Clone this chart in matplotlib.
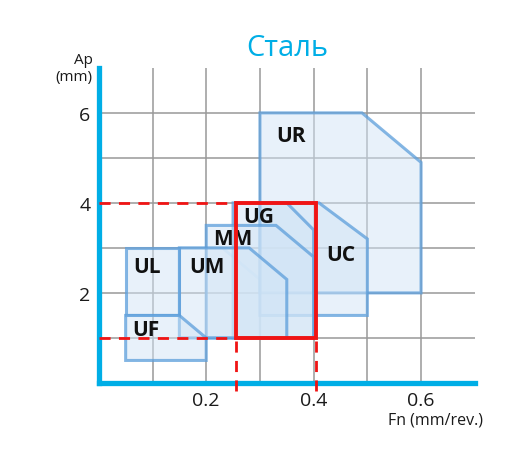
import matplotlib
matplotlib.use("Agg")
import matplotlib.pyplot as plt
from matplotlib.patches import Polygon, Rectangle

plt.rcParams['font.family'] = ['Open Sans', 'DejaVu Sans']

# ---- data ----
title = "Сталь"
x_label = "Fn (mm/rev.)"
y_label = "Ap\n(mm)"
x_ticks = [0.2, 0.4, 0.6]
y_ticks = [2, 4, 6]

# chipbreaker application areas (Fn, Ap) vertices
names = ["UR", "UC", "UG", "MM", "UM", "UL", "UF"]
areas = {
    "UR": [(0.30, 2.0), (0.60, 2.0), (0.60, 4.9), (0.49, 6.0), (0.30, 6.0)],
    "UC": [(0.30, 1.5), (0.50, 1.5), (0.50, 3.2), (0.41, 4.0), (0.30, 4.0)],
    "UG": [(0.25, 1.0), (0.40, 1.0), (0.40, 3.4), (0.35, 4.0), (0.25, 4.0)],
    "MM": [(0.20, 1.0), (0.40, 1.0), (0.40, 2.8), (0.33, 3.5), (0.20, 3.5)],
    "UM": [(0.15, 1.0), (0.35, 1.0), (0.35, 2.3), (0.28, 3.0), (0.15, 3.0)],
    "UL": [(0.05, 1.5), (0.15, 1.5), (0.15, 3.0), (0.05, 3.0)],
    "UF": [(0.05, 0.5), (0.20, 0.5), (0.20, 1.0), (0.15, 1.5), (0.05, 1.5)],
}
faint_area = [(0.15, 1.0), (0.30, 1.0), (0.30, 2.3), (0.23, 3.0), (0.15, 3.0)]
label_pos = {
    "UR": (0.331, 5.5), "UC": (0.424, 2.85), "UG": (0.269, 3.69),
    "MM": (0.212, 3.2), "UM": (0.168, 2.59), "UL": (0.065, 2.59),
    "UF": (0.063, 1.19),
}
# recommended range
fn_range = (0.255, 0.405)
ap_range = (1.0, 4.0)

# ---- figure ----
fig = plt.figure(figsize=(5.2, 4.56), dpi=100)
ax = fig.add_axes([0.190, 0.158, 0.723, 0.691])
ax.set_xlim(0, 0.7)
ax.set_ylim(0, 7)

cyan = "#00aee6"
for s in ["top", "right"]:
    ax.spines[s].set_visible(False)
for s in ["left", "bottom"]:
    ax.spines[s].set_color(cyan)
    ax.spines[s].set_linewidth(3.8)

grid_x = [0.1, 0.2, 0.3, 0.4, 0.5, 0.6]
grid_y = [1, 2, 3, 4, 5, 6]
ax.set_xticks(grid_x)
ax.set_xticklabels([f"{v:.1f}" if round(v, 1) in x_ticks else "" for v in grid_x])
ax.set_yticks(grid_y)
ax.set_yticklabels([str(v) if v in y_ticks else "" for v in grid_y])
ax.tick_params(length=0, labelsize=14, pad=6, colors="#1a1a1a")
ax.grid(True, color="#999999", linewidth=1.1, zorder=0)
ax.set_axisbelow(True)

face = (210 / 255, 229 / 255, 246 / 255, 0.5)
edge = (0.36, 0.62, 0.86, 0.75)
ax.add_patch(Polygon(faint_area, closed=True, facecolor="none",
                     edgecolor=(0.55, 0.75, 0.92, 0.4), linewidth=2.0, zorder=2))
for i, n in enumerate(names):
    ax.add_patch(Polygon(areas[n], closed=True, facecolor=face, edgecolor=edge,
                         linewidth=2.2, joinstyle="miter", zorder=2 + i * 0.1))
for n in names:
    x, y = label_pos[n]
    ax.text(x, y, n, fontsize=15, fontweight="bold", color="#111111",
            ha="left", va="center", zorder=5)

red = "#f01414"
ax.add_patch(Rectangle((fn_range[0], ap_range[0]), fn_range[1] - fn_range[0],
                       ap_range[1] - ap_range[0], facecolor="none",
                       edgecolor=red, linewidth=2.8, zorder=6))
for yv in ap_range:
    ax.plot([0, fn_range[0]], [yv, yv], color=red, linewidth=2.0,
            dashes=(4, 3), zorder=6)
for xv in fn_range:
    ax.plot([xv, xv], [-0.17, ap_range[0]], color=red, linewidth=2.0,
            dashes=(4, 3), zorder=6, clip_on=False)

fig.text(0.552, 0.893, title, color=cyan, fontsize=21, ha="center", va="center")
fig.text(0.178, 0.849, y_label, fontsize=11, ha="right", va="center",
         linespacing=1.15, color="#1a1a1a")
fig.text(0.838, 0.077, x_label, fontsize=11.5, ha="center", va="center",
         color="#1a1a1a")

fig.savefig("out.png", dpi=100)
